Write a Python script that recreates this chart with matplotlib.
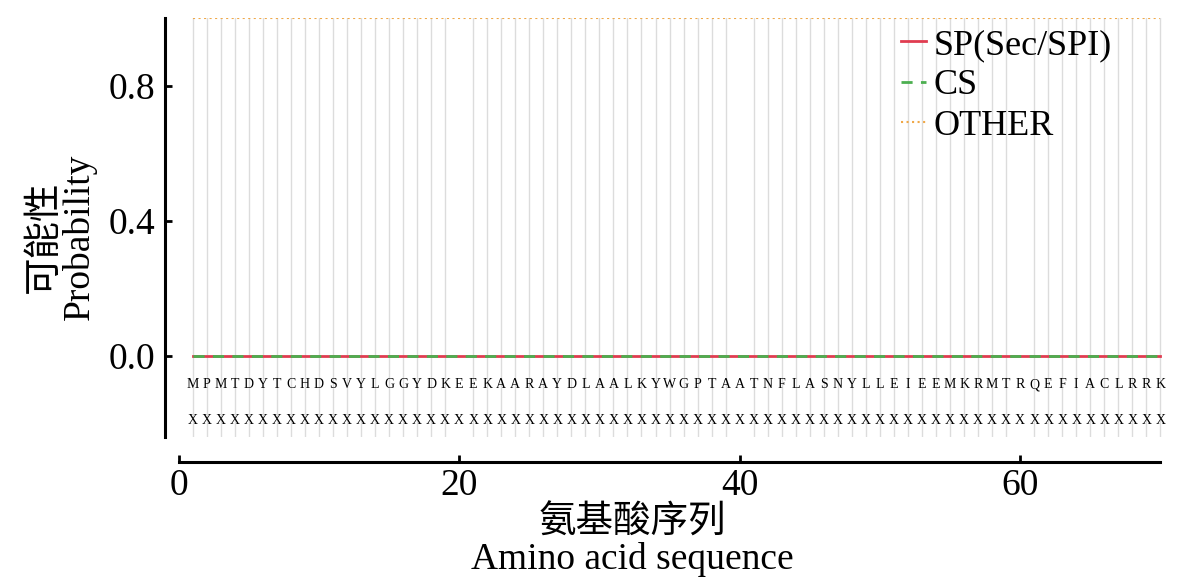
import numpy as np
import matplotlib
matplotlib.use("Agg")
import matplotlib.pyplot as plt

# sequence and per-residue annotation row
sequence = "MPMTDYTCHDSVYLGGYDKEEKAARAYDLAALKYWGPTAATNFLASNYLLEIEEMKRMTRQEFIACLRRK"
annotation = "XXXXXXXXXXXXXXXXXXXXXXXXXXXXXXXXXXXXXXXXXXXXXXXXXXXXXXXXXXXXXXXXXXXXXX"
positions = np.arange(1, len(sequence) + 1)

sp_prob = [0.0, 0.0, 0.0, 0.0, 0.0, 0.0, 0.0, 0.0, 0.0, 0.0,
           0.0, 0.0, 0.0, 0.0, 0.0, 0.0, 0.0, 0.0, 0.0, 0.0,
           0.0, 0.0, 0.0, 0.0, 0.0, 0.0, 0.0, 0.0, 0.0, 0.0,
           0.0, 0.0, 0.0, 0.0, 0.0, 0.0, 0.0, 0.0, 0.0, 0.0,
           0.0, 0.0, 0.0, 0.0, 0.0, 0.0, 0.0, 0.0, 0.0, 0.0,
           0.0, 0.0, 0.0, 0.0, 0.0, 0.0, 0.0, 0.0, 0.0, 0.0,
           0.0, 0.0, 0.0, 0.0, 0.0, 0.0, 0.0, 0.0, 0.0, 0.0]
cs_prob = [0.0, 0.0, 0.0, 0.0, 0.0, 0.0, 0.0, 0.0, 0.0, 0.0,
           0.0, 0.0, 0.0, 0.0, 0.0, 0.0, 0.0, 0.0, 0.0, 0.0,
           0.0, 0.0, 0.0, 0.0, 0.0, 0.0, 0.0, 0.0, 0.0, 0.0,
           0.0, 0.0, 0.0, 0.0, 0.0, 0.0, 0.0, 0.0, 0.0, 0.0,
           0.0, 0.0, 0.0, 0.0, 0.0, 0.0, 0.0, 0.0, 0.0, 0.0,
           0.0, 0.0, 0.0, 0.0, 0.0, 0.0, 0.0, 0.0, 0.0, 0.0,
           0.0, 0.0, 0.0, 0.0, 0.0, 0.0, 0.0, 0.0, 0.0, 0.0]
other_prob = [1.0, 1.0, 1.0, 1.0, 1.0, 1.0, 1.0, 1.0, 1.0, 1.0,
              1.0, 1.0, 1.0, 1.0, 1.0, 1.0, 1.0, 1.0, 1.0, 1.0,
              1.0, 1.0, 1.0, 1.0, 1.0, 1.0, 1.0, 1.0, 1.0, 1.0,
              1.0, 1.0, 1.0, 1.0, 1.0, 1.0, 1.0, 1.0, 1.0, 1.0,
              1.0, 1.0, 1.0, 1.0, 1.0, 1.0, 1.0, 1.0, 1.0, 1.0,
              1.0, 1.0, 1.0, 1.0, 1.0, 1.0, 1.0, 1.0, 1.0, 1.0,
              1.0, 1.0, 1.0, 1.0, 1.0, 1.0, 1.0, 1.0, 1.0, 1.0]

xticks = [0, 20, 40, 60]
yticks = [0.0, 0.4, 0.8]

FONT = ['Liberation Serif', 'Noto Sans CJK SC']
plt.rcParams['font.family'] = FONT
plt.rcParams['axes.unicode_minus'] = False

fig = plt.figure(figsize=(11.79, 5.85), dpi=100)
ax = fig.add_axes([0.140, 0.253, 0.849, 0.716])

ax.plot(positions, sp_prob, color='#e03c50', lw=2, label='SP(Sec/SPI)')
ax.plot(positions, cs_prob, color='#4caf50', lw=2, ls=(0, (4, 3)), label='CS')
ax.plot(positions, other_prob, color='#f0a848', lw=1.5, ls=':', label='OTHER')

# residue letters under the curves
for x, aa, lab in zip(positions, sequence, annotation):
    ax.text(x, -0.086, aa, ha='center', va='center', fontsize=10,
            family='Liberation Serif')
    ax.text(x, -0.19, lab, ha='center', va='center', fontsize=10,
            family='Liberation Serif')

ax.set_xlim(-0.97, 70.4)
ax.set_ylim(-0.24, 1.0)
ax.set_xticks(xticks)
ax.set_yticks(yticks)
ax.set_xticks(positions, minor=True)
ax.grid(which='minor', axis='x', color='#dcdcdc', lw=1)
ax.tick_params(which='minor', length=0)
ax.tick_params(which='major', direction='in', length=5, width=2,
               labelsize=27, pad=7)
ax.tick_params(axis='x', which='major', pad=5)
ax.yaxis.set_major_formatter(matplotlib.ticker.FormatStrFormatter('%.1f'))

for s in ('top', 'right'):
    ax.spines[s].set_visible(False)
ax.spines['left'].set_linewidth(2.2)
ax.spines['bottom'].set_linewidth(2.2)
ax.spines['bottom'].set_position(('outward', 18))
ax.spines['bottom'].set_bounds(0, 70)

ax.set_xlabel('氨基酸序列\nAmino acid sequence', fontsize=27, linespacing=1.05)
ax.xaxis.set_label_coords(0.467, -0.163)
ax.set_ylabel('可能性\nProbability', fontsize=27, linespacing=1.0)
ax.yaxis.set_label_coords(-0.068, 0.477)

ax.legend(loc='upper left', bbox_to_anchor=(0.735, 0.975), frameon=False,
          fontsize=26, handlelength=0.7, handletextpad=0.2,
          labelspacing=0.2, borderpad=0, borderaxespad=0)

fig.savefig('out.png', dpi=100)
